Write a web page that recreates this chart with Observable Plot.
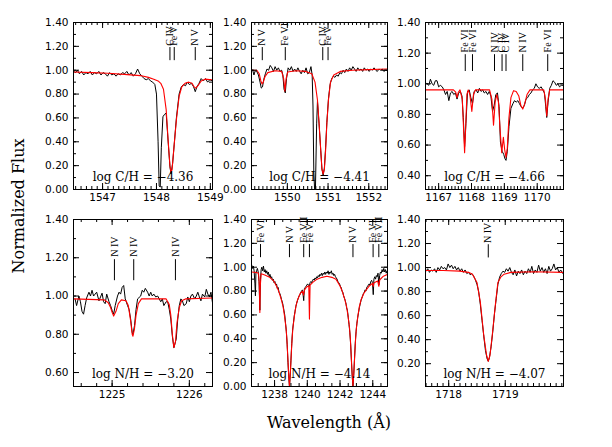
<!DOCTYPE html>
<html><head><meta charset="utf-8">
<script src="https://cdn.jsdelivr.net/npm/d3@7"></script>
<script src="https://cdn.jsdelivr.net/npm/@observablehq/plot@0.6"></script>
<style>
body{margin:0;background:#fff;}
#chart{position:relative;width:612px;height:447px;overflow:hidden;background:#fff;}
.axlab{position:absolute;font-family:"DejaVu Serif";font-size:16px;color:#000;white-space:nowrap;}
</style>
</head><body><div id="chart"></div>
<script>
// ---------- DATA ----------
// Panel 1: C IV 1548
const p1Obs = [[1546.46,0.99],[1546.50,0.98],[1546.53,1.00],[1546.57,0.97],[1546.61,0.99],[1546.65,0.96],[1546.69,0.98],[1546.73,0.97],[1546.77,0.99],[1546.81,0.96],[1546.85,0.98],[1546.89,0.97],[1546.93,0.99],[1546.97,0.96],[1547.01,0.98],[1547.05,0.97],[1547.09,0.95],[1547.13,0.98],[1547.17,0.96],[1547.21,0.97],[1547.25,0.95],[1547.29,0.97],[1547.33,0.96],[1547.37,0.98],[1547.41,0.97],[1547.45,0.99],[1547.49,0.96],[1547.53,0.98],[1547.57,0.95],[1547.61,0.97],[1547.65,1.01],[1547.69,0.97],[1547.73,0.95],[1547.77,0.93],[1547.81,0.92],[1547.85,0.93],[1547.89,0.91],[1547.93,0.90],[1547.97,0.88],[1548.00,0.80],[1548.03,0.40],[1548.05,0.03],[1548.07,0.02],[1548.09,0.35],[1548.12,0.61],[1548.15,0.63],[1548.18,0.64],[1548.22,0.38],[1548.25,0.19],[1548.27,0.13],[1548.30,0.22],[1548.33,0.38],[1548.37,0.60],[1548.42,0.80],[1548.46,0.86],[1548.50,0.88],[1548.54,0.87],[1548.57,0.90],[1548.61,0.88],[1548.65,0.89],[1548.69,0.86],[1548.72,0.82],[1548.75,0.86],[1548.79,0.89],[1548.83,0.93],[1548.87,0.91],[1548.91,0.93],[1548.95,0.90],[1548.99,0.92],[1549.04,0.91]];
const p1Mod = [[1546.46,0.985],[1546.8,0.98],[1547.1,0.975],[1547.4,0.965],[1547.7,0.955],[1547.85,0.94],[1547.95,0.925],[1548.03,0.91],[1548.08,0.89],[1548.13,0.84],[1548.18,0.67],[1548.22,0.39],[1548.25,0.20],[1548.27,0.14],[1548.29,0.17],[1548.32,0.33],[1548.37,0.585],[1548.42,0.78],[1548.47,0.86],[1548.53,0.89],[1548.60,0.90],[1548.66,0.89],[1548.70,0.86],[1548.73,0.85],[1548.77,0.87],[1548.83,0.91],[1548.90,0.925],[1549.05,0.92]];
const p1IdWave = [1548.25, 1548.33, 1548.72];
const p1IdText = ["C IV", "Fe V", "N V"];
const p1Label = "log C/H = \u22124.36";
const p1XTicks = [1547, 1548, 1549];
const p1YTicks = [0, 0.2, 0.4, 0.6, 0.8, 1.0, 1.2, 1.4];

// Panel 2: C IV 1551
const p2Obs = [[1549.12,1.01],[1549.15,1.00],[1549.18,0.96],[1549.21,0.995],[1549.25,0.99],[1549.29,0.96],[1549.33,0.90],[1549.36,0.85],[1549.39,0.86],[1549.42,0.92],[1549.46,0.97],[1549.50,1.01],[1549.54,1.00],[1549.58,1.04],[1549.62,1.02],[1549.66,0.99],[1549.70,1.03],[1549.74,1.00],[1549.78,1.02],[1549.82,0.99],[1549.86,1.00],[1549.89,0.96],[1549.92,0.84],[1549.95,0.81],[1549.98,0.93],[1550.02,1.02],[1550.06,1.00],[1550.10,1.03],[1550.14,0.99],[1550.18,1.01],[1550.22,0.99],[1550.26,1.02],[1550.30,0.99],[1550.34,0.97],[1550.38,1.00],[1550.42,0.98],[1550.46,1.02],[1550.50,0.97],[1550.54,0.98],[1550.58,1.03],[1550.61,0.96],[1550.63,0.70],[1550.65,0.15],[1550.67,0.0],[1550.69,0.0],[1550.72,0.55],[1550.74,0.74],[1550.78,0.55],[1550.82,0.33],[1550.85,0.17],[1550.88,0.12],[1550.91,0.18],[1550.94,0.35],[1550.97,0.56],[1551.01,0.76],[1551.05,0.88],[1551.09,0.93],[1551.13,0.95],[1551.17,0.94],[1551.21,0.96],[1551.25,0.95],[1551.29,0.98],[1551.33,0.97],[1551.37,1.00],[1551.41,0.98],[1551.45,1.01],[1551.49,0.99],[1551.53,1.02],[1551.57,1.00],[1551.61,1.03],[1551.65,1.01],[1551.69,0.99],[1551.73,1.02],[1551.77,1.00],[1551.81,1.01],[1551.85,0.99],[1551.89,1.02],[1551.93,1.00],[1551.97,1.01],[1552.01,0.99],[1552.05,1.01],[1552.09,1.00],[1552.13,1.02],[1552.17,1.00],[1552.21,0.99],[1552.25,1.01],[1552.29,1.00],[1552.33,1.01],[1552.37,0.99],[1552.41,1.00],[1552.46,1.00]];
const p2Mod = [[1549.10,1.00],[1549.25,1.00],[1549.31,0.97],[1549.35,0.91],[1549.38,0.885],[1549.41,0.90],[1549.45,0.945],[1549.52,0.98],[1549.70,0.995],[1549.86,0.99],[1549.91,0.93],[1549.94,0.825],[1549.97,0.93],[1550.01,0.985],[1550.20,0.995],[1550.45,0.99],[1550.60,0.97],[1550.68,0.90],[1550.74,0.75],[1550.78,0.55],[1550.82,0.33],[1550.85,0.17],[1550.88,0.13],[1550.91,0.17],[1550.94,0.33],[1550.97,0.55],[1551.01,0.75],[1551.06,0.90],[1551.14,0.96],[1551.30,0.99],[1551.60,1.00],[1552.00,1.005],[1552.47,1.01]];
const p2IdWave = [1549.385, 1549.95, 1550.87, 1551.0];
const p2IdText = ["N V", "Fe VI", "C IV", "Fe V"];
const p2Label = "log C/H = \u22124.41";
const p2XTicks = [1550, 1551, 1552];
const p2YTicks = [0, 0.2, 0.4, 0.6, 0.8, 1.0, 1.2, 1.4];

// Panel 3: C IV 1169
const p3Obs = [[1166.65,1.00],[1166.70,0.99],[1166.75,1.03],[1166.80,1.00],[1166.85,0.99],[1166.90,1.02],[1166.95,1.02],[1167.00,0.98],[1167.05,0.99],[1167.11,0.98],[1167.16,0.96],[1167.21,0.93],[1167.26,0.95],[1167.31,0.89],[1167.36,0.94],[1167.41,0.95],[1167.46,0.93],[1167.51,0.94],[1167.56,0.90],[1167.61,0.94],[1167.66,0.95],[1167.71,0.92],[1167.75,0.78],[1167.79,0.59],[1167.83,0.74],[1167.88,0.95],[1167.93,0.96],[1167.98,0.91],[1168.03,0.87],[1168.08,0.95],[1168.14,0.96],[1168.19,0.94],[1168.24,0.97],[1168.29,0.95],[1168.34,0.96],[1168.39,0.94],[1168.44,0.95],[1168.49,0.93],[1168.54,0.95],[1168.59,0.92],[1168.64,0.82],[1168.69,0.86],[1168.74,0.93],[1168.79,0.94],[1168.84,0.85],[1168.88,0.62],[1168.93,0.56],[1168.98,0.54],[1169.02,0.51],[1169.05,0.50],[1169.09,0.56],[1169.14,0.72],[1169.20,0.84],[1169.26,0.87],[1169.31,0.89],[1169.36,0.88],[1169.41,0.89],[1169.46,0.87],[1169.51,0.85],[1169.56,0.84],[1169.61,0.86],[1169.66,0.90],[1169.71,0.91],[1169.76,0.93],[1169.81,0.94],[1169.86,0.96],[1169.91,0.97],[1169.96,1.00],[1170.01,0.98],[1170.06,0.97],[1170.12,0.98],[1170.17,0.96],[1170.22,0.94],[1170.26,0.85],[1170.29,0.78],[1170.33,0.88],[1170.38,0.97],[1170.43,0.99],[1170.48,1.02],[1170.53,1.01],[1170.58,0.99],[1170.63,1.00],[1170.68,0.98],[1170.73,0.99],[1170.78,0.99]];
const p3Mod = [[1166.60,0.96],[1167.45,0.96],[1167.52,0.945],[1167.56,0.91],[1167.60,0.945],[1167.65,0.96],[1167.72,0.90],[1167.76,0.70],[1167.79,0.55],[1167.82,0.70],[1167.86,0.93],[1167.90,0.96],[1167.95,0.93],[1168.01,0.82],[1168.06,0.93],[1168.12,0.96],[1168.55,0.96],[1168.62,0.90],[1168.67,0.73],[1168.72,0.88],[1168.77,0.93],[1168.82,0.88],[1168.87,0.70],[1168.92,0.55],[1168.97,0.65],[1169.01,0.57],[1169.05,0.52],[1169.09,0.58],[1169.14,0.78],[1169.20,0.91],[1169.28,0.955],[1169.36,0.95],[1169.44,0.92],[1169.50,0.86],[1169.56,0.835],[1169.62,0.87],[1169.69,0.93],[1169.78,0.96],[1170.20,0.96],[1170.25,0.90],[1170.29,0.79],[1170.33,0.90],[1170.38,0.96],[1170.80,0.96]];
const p3IdWave = [1167.81, 1168.03, 1168.70, 1168.93, 1169.05, 1169.56, 1170.32];
const p3IdText = ["Fe VI", "Fe VI", "N IV", "C IV", "C IV", "N IV", "Fe VI"];
const p3Label = "log C/H = \u22124.66";
const p3XTicks = [1167, 1168, 1169, 1170];
const p3YTicks = [0.4, 0.6, 0.8, 1.0, 1.2, 1.4];

// Panel 4: N IV 1225
const p4Obs = [[1224.52,0.985],[1224.54,0.95],[1224.57,1.00],[1224.59,0.97],[1224.61,0.92],[1224.63,0.905],[1224.65,0.95],[1224.67,0.99],[1224.70,1.02],[1224.72,1.00],[1224.74,1.03],[1224.76,1.00],[1224.78,1.01],[1224.80,1.02],[1224.83,0.975],[1224.85,0.995],[1224.87,1.015],[1224.89,0.97],[1224.91,0.96],[1224.93,1.01],[1224.96,0.97],[1224.98,0.95],[1225.00,0.925],[1225.02,0.905],[1225.04,0.95],[1225.07,1.00],[1225.09,1.02],[1225.11,1.01],[1225.13,1.045],[1225.15,1.055],[1225.17,0.985],[1225.20,0.95],[1225.22,0.93],[1225.24,0.88],[1225.26,0.81],[1225.27,0.80],[1225.29,0.845],[1225.31,0.93],[1225.33,0.985],[1225.37,1.00],[1225.39,1.03],[1225.41,1.02],[1225.43,1.04],[1225.46,1.02],[1225.48,1.00],[1225.50,1.02],[1225.52,1.00],[1225.54,1.01],[1225.565,0.995],[1225.59,1.00],[1225.61,0.985],[1225.63,0.97],[1225.65,0.985],[1225.67,0.95],[1225.70,0.97],[1225.72,0.97],[1225.74,0.93],[1225.76,0.88],[1225.78,0.79],[1225.80,0.73],[1225.83,0.775],[1225.85,0.88],[1225.87,0.95],[1225.89,0.985],[1225.91,0.975],[1225.93,0.95],[1225.96,0.96],[1225.98,0.995],[1226.00,0.97],[1226.02,1.00],[1226.04,1.01],[1226.07,0.985],[1226.09,1.00],[1226.11,1.02],[1226.13,0.995],[1226.15,0.975],[1226.17,1.01],[1226.20,0.995],[1226.22,1.035],[1226.24,1.01],[1226.26,0.995],[1226.28,1.02],[1226.30,0.965]];
const p4Mod = [[1224.50,0.985],[1224.90,0.98],[1224.95,0.965],[1224.98,0.94],[1225.00,0.915],[1225.02,0.895],[1225.05,0.92],[1225.08,0.96],[1225.12,0.98],[1225.18,0.975],[1225.21,0.95],[1225.24,0.87],[1225.26,0.80],[1225.27,0.79],[1225.29,0.83],[1225.31,0.90],[1225.34,0.96],[1225.38,0.985],[1225.70,0.985],[1225.74,0.955],[1225.76,0.90],[1225.78,0.80],[1225.80,0.73],[1225.82,0.76],[1225.84,0.86],[1225.87,0.94],[1225.90,0.975],[1225.95,0.985],[1226.30,0.99]];
const p4IdWave = [1225.03, 1225.28, 1225.82];
const p4IdText = ["N IV", "N IV", "N IV"];
const p4Label = "log N/H = \u22123.20";
const p4XTicks = [1225, 1226];
const p4YTicks = [0.6, 0.8, 1.0, 1.2, 1.4];

// Panel 5: N V 1238/1242
const p5Obs = [[1236.60,1.02],[1236.65,0.99],[1236.70,1.01],[1236.75,0.97],[1236.80,0.86],[1236.83,0.76],[1236.86,0.95],[1236.90,0.97],[1236.95,0.99],[1237.00,0.96],[1237.05,0.88],[1237.10,0.64],[1237.14,0.90],[1237.18,0.98],[1237.22,1.00],[1237.27,0.97],[1237.32,1.01],[1237.37,0.96],[1237.42,0.98],[1237.47,0.95],[1237.52,0.97],[1237.57,0.94],[1237.62,0.96],[1237.67,0.92],[1237.72,0.94],[1237.77,0.91],[1237.82,0.92],[1237.87,0.89],[1237.92,0.90],[1237.97,0.87],[1238.02,0.88],[1238.07,0.85],[1238.12,0.86],[1238.17,0.82],[1238.22,0.83],[1238.27,0.79],[1238.32,0.78],[1238.37,0.76],[1238.42,0.73],[1238.47,0.71],[1238.52,0.68],[1238.57,0.64],[1238.62,0.60],[1238.67,0.53],[1238.72,0.46],[1238.77,0.35],[1238.82,0.20],[1238.87,0.07],[1238.91,0.00],[1238.95,0.08],[1239.00,0.22],[1239.05,0.36],[1239.10,0.47],[1239.15,0.53],[1239.20,0.59],[1239.25,0.63],[1239.30,0.67],[1239.35,0.70],[1239.40,0.72],[1239.45,0.74],[1239.50,0.76],[1239.55,0.77],[1239.60,0.79],[1239.65,0.80],[1239.70,0.81],[1239.75,0.76],[1239.78,0.72],[1239.82,0.82],[1239.87,0.83],[1239.92,0.84],[1239.97,0.85],[1240.02,0.86],[1240.07,0.85],[1240.12,0.84],[1240.17,0.87],[1240.22,0.88],[1240.27,0.87],[1240.32,0.89],[1240.37,0.90],[1240.42,0.89],[1240.47,0.91],[1240.52,0.90],[1240.57,0.92],[1240.62,0.91],[1240.67,0.93],[1240.72,0.92],[1240.77,0.94],[1240.82,0.93],[1240.87,0.95],[1240.92,0.93],[1240.97,0.95],[1241.02,0.94],[1241.07,0.96],[1241.12,0.94],[1241.17,0.96],[1241.22,0.95],[1241.27,0.97],[1241.32,0.94],[1241.37,0.96],[1241.42,0.95],[1241.47,0.97],[1241.52,0.94],[1241.57,0.95],[1241.62,0.93],[1241.67,0.94],[1241.72,0.92],[1241.77,0.91],[1241.82,0.90],[1241.87,0.88],[1241.92,0.87],[1241.97,0.86],[1242.02,0.84],[1242.07,0.83],[1242.12,0.80],[1242.17,0.79],[1242.22,0.76],[1242.27,0.74],[1242.32,0.72],[1242.37,0.69],[1242.40,0.66],[1242.45,0.64],[1242.50,0.58],[1242.55,0.52],[1242.60,0.45],[1242.65,0.35],[1242.70,0.20],[1242.75,0.07],[1242.79,0.00],[1242.83,0.08],[1242.88,0.22],[1242.93,0.36],[1242.98,0.46],[1243.03,0.53],[1243.08,0.58],[1243.13,0.62],[1243.18,0.66],[1243.23,0.69],[1243.28,0.72],[1243.33,0.74],[1243.38,0.76],[1243.43,0.78],[1243.48,0.79],[1243.53,0.81],[1243.58,0.80],[1243.63,0.83],[1243.68,0.84],[1243.73,0.85],[1243.78,0.86],[1243.83,0.85],[1243.88,0.88],[1243.93,0.89],[1243.98,0.87],[1244.03,0.77],[1244.07,0.90],[1244.12,0.92],[1244.17,0.90],[1244.22,0.93],[1244.27,0.92],[1244.32,0.95],[1244.37,0.85],[1244.42,0.93],[1244.47,0.96],[1244.52,0.95],[1244.57,0.98],[1244.62,0.96],[1244.67,0.99],[1244.72,0.96],[1244.77,0.98],[1244.82,0.95],[1244.87,0.97],[1244.90,0.96]];
const p5Mod = [[1236.59,0.96],[1236.90,0.955],[1237.02,0.95],[1237.07,0.85],[1237.10,0.62],[1237.13,0.85],[1237.18,0.945],[1237.40,0.935],[1237.70,0.915],[1237.95,0.885],[1238.11,0.845],[1238.25,0.80],[1238.41,0.73],[1238.52,0.67],[1238.61,0.59],[1238.70,0.49],[1238.75,0.40],[1238.80,0.27],[1238.85,0.13],[1238.91,0.00],[1238.97,0.13],[1239.02,0.27],[1239.07,0.40],[1239.12,0.49],[1239.21,0.59],[1239.30,0.67],[1239.41,0.73],[1239.57,0.78],[1239.71,0.80],[1239.77,0.765],[1239.83,0.81],[1239.96,0.835],[1240.09,0.845],[1240.13,0.565],[1240.17,0.85],[1240.35,0.875],[1240.60,0.90],[1240.90,0.915],[1241.20,0.925],[1241.50,0.915],[1241.75,0.90],[1241.99,0.845],[1242.13,0.80],[1242.29,0.73],[1242.40,0.67],[1242.49,0.59],[1242.58,0.49],[1242.63,0.40],[1242.68,0.27],[1242.73,0.13],[1242.79,0.00],[1242.85,0.13],[1242.90,0.27],[1242.95,0.40],[1243.00,0.49],[1243.09,0.59],[1243.18,0.67],[1243.29,0.73],[1243.45,0.78],[1243.60,0.81],[1243.80,0.845],[1243.98,0.865],[1244.03,0.84],[1244.08,0.87],[1244.30,0.885],[1244.37,0.84],[1244.43,0.895],[1244.65,0.925],[1244.90,0.94]];
const p5IdWave = [1237.14, 1238.91, 1239.78, 1240.13, 1242.79, 1244.02, 1244.37];
const p5IdText = ["Fe VI", "N V", "Fe VII", "Fe VI", "N V", "Fe VI", "Fe VII"];
const p5Label = "log N/H = \u22124.14";
const p5XTicks = [1238, 1240, 1242, 1244];
const p5YTicks = [0, 0.2, 0.4, 0.6, 0.8, 1.0, 1.2, 1.4];

// Panel 6: N IV 1718
const p6Obs = [[1717.60,0.97],[1717.63,0.99],[1717.66,0.96],[1717.69,0.98],[1717.72,0.97],[1717.75,0.99],[1717.78,0.96],[1717.81,1.00],[1717.84,0.98],[1717.87,1.01],[1717.90,0.99],[1717.93,1.00],[1717.96,0.98],[1717.99,1.03],[1718.02,1.00],[1718.05,1.02],[1718.08,0.99],[1718.11,1.01],[1718.14,0.98],[1718.17,1.00],[1718.20,0.97],[1718.23,0.99],[1718.26,0.96],[1718.29,0.98],[1718.32,0.95],[1718.35,0.96],[1718.38,0.94],[1718.41,0.95],[1718.44,0.93],[1718.47,0.90],[1718.50,0.86],[1718.53,0.80],[1718.56,0.69],[1718.59,0.56],[1718.62,0.43],[1718.65,0.31],[1718.68,0.24],[1718.70,0.22],[1718.72,0.25],[1718.75,0.34],[1718.78,0.47],[1718.81,0.62],[1718.84,0.74],[1718.87,0.86],[1718.90,0.92],[1718.93,0.95],[1718.96,0.97],[1718.99,0.96],[1719.02,0.99],[1719.05,0.97],[1719.08,1.00],[1719.11,0.96],[1719.14,0.94],[1719.17,0.98],[1719.20,0.93],[1719.23,0.97],[1719.26,0.95],[1719.29,0.98],[1719.32,0.94],[1719.35,0.97],[1719.38,0.95],[1719.41,0.99],[1719.44,0.96],[1719.47,1.01],[1719.50,0.95],[1719.53,0.98],[1719.56,0.96],[1719.59,1.02],[1719.62,0.97],[1719.65,1.00],[1719.68,0.96],[1719.71,0.99],[1719.74,0.95],[1719.77,1.01],[1719.80,0.97],[1719.83,0.99],[1719.86,1.03],[1719.89,0.98],[1719.92,1.00],[1719.95,0.96],[1719.98,0.98],[1720.02,0.95]];
const p6Mod = [[1717.59,0.975],[1717.90,0.975],[1718.20,0.97],[1718.35,0.96],[1718.42,0.945],[1718.50,0.876],[1718.56,0.71],[1718.62,0.435],[1718.67,0.27],[1718.70,0.22],[1718.73,0.27],[1718.77,0.435],[1718.83,0.71],[1718.87,0.876],[1718.92,0.92],[1718.98,0.945],[1719.10,0.96],[1719.50,0.965],[1720.03,0.96]];
const p6IdWave = [1718.70];
const p6IdText = ["N IV"];
const p6Label = "log N/H = \u22124.07";
const p6XTicks = [1718, 1719];
const p6YTicks = [0.2, 0.4, 0.6, 0.8, 1.0, 1.2, 1.4];

const yAxisTitle = "Normalized Flux";
const xAxisTitle = "Wavelength (\u00C5)";

// ---------- LAYOUT ----------
const ID_Y1 = 1.08, ID_Y2 = 1.19, ID_TEXT_Y = 1.205;
const panels = [
  {left:73, top:22, w:139, h:167, xdom:[1546.46,1549.04], ydom:[0,1.4], xStep:0.1, obs:p1Obs, mod:p1Mod, idW:p1IdWave, idT:p1IdText, label:p1Label, xT:p1XTicks, yT:p1YTicks},
  {left:251, top:22, w:136, h:167, xdom:[1549.12,1552.46], ydom:[0,1.4], xStep:0.1, obs:p2Obs, mod:p2Mod, idW:p2IdWave, idT:p2IdText, label:p2Label, xT:p2XTicks, yT:p2YTicks},
  {left:425, top:22, w:138, h:167, xdom:[1166.6,1170.8], ydom:[0.31,1.4], xStep:0.1, obs:p3Obs, mod:p3Mod, idW:p3IdWave, idT:p3IdText, label:p3Label, xT:p3XTicks, yT:p3YTicks},
  {left:73, top:219, w:139, h:167, xdom:[1224.5,1226.3], ydom:[0.527,1.4], xStep:0.2, obs:p4Obs, mod:p4Mod, idW:p4IdWave, idT:p4IdText, label:p4Label, xT:p4XTicks, yT:p4YTicks},
  {left:251, top:219, w:136, h:167, xdom:[1236.59,1244.9], ydom:[0,1.4], xStep:0.5, obs:p5Obs, mod:p5Mod, idW:p5IdWave, idT:p5IdText, label:p5Label, xT:p5XTicks, yT:p5YTicks},
  {left:425, top:219, w:138, h:167, xdom:[1717.59,1720.03], ydom:[0.01,1.4], xStep:0.1, obs:p6Obs, mod:p6Mod, idW:p6IdWave, idT:p6IdText, label:p6Label, xT:p6XTicks, yT:p6YTicks}
];

const chart = document.getElementById("chart");
const mL = 44, mR = 8, mT = 6, mB = 22;
const MAJ = 6, MIN = 3;

for (const p of panels) {
  const obs = p.obs.map(([w, f]) => ({w, f}));
  const mod = p.mod.map(([w, f]) => ({w, f}));
  const ids = p.idW.map((w, i) => ({w, t: p.idT[i]}));
  const eps = 1e-6;
  const xMinor = d3.range(Math.ceil(p.xdom[0] / p.xStep - eps), Math.floor(p.xdom[1] / p.xStep + eps) + 1).map(k => +(k * p.xStep).toFixed(4));
  const yMinor = d3.range(Math.ceil(p.ydom[0] * 10 - eps), Math.floor(p.ydom[1] * 10 + eps) + 1).map(k => +(k / 10).toFixed(2));
  const svg = Plot.plot({
    width: p.w + mL + mR,
    height: p.h + mT + mB,
    marginLeft: mL, marginRight: mR, marginTop: mT, marginBottom: mB,
    x: {domain: p.xdom, label: null},
    y: {domain: p.ydom, label: null},
    style: {background: "none", overflow: "visible", fontFamily: "DejaVu Sans", fontSize: "10.5px", color: "black"},
    marks: [
      Plot.line(obs, {x: "w", y: "f", stroke: "black", strokeWidth: 1, clip: true}),
      Plot.line(mod, {x: "w", y: "f", stroke: "#ff0000", strokeWidth: 1.1, clip: true}),
      Plot.ruleX(ids, {x: "w", y1: ID_Y1, y2: ID_Y2, stroke: "black", strokeWidth: 1}),
      Plot.text(ids, {x: "w", y: ID_TEXT_Y, text: "t", rotate: -90, textAnchor: "start", fontFamily: "Liberation Serif", fontSize: 10, fill: "black"}),
      // inward ticks, all four sides
      Plot.ruleX(p.xT, {insetTop: p.h - MAJ, stroke: "black"}),
      Plot.ruleX(p.xT, {insetBottom: p.h - MAJ, stroke: "black"}),
      Plot.ruleX(xMinor, {insetTop: p.h - MIN, stroke: "black"}),
      Plot.ruleX(xMinor, {insetBottom: p.h - MIN, stroke: "black"}),
      Plot.ruleY(p.yT, {insetRight: p.w - MAJ, stroke: "black"}),
      Plot.ruleY(p.yT, {insetLeft: p.w - MAJ, stroke: "black"}),
      Plot.ruleY(yMinor, {insetRight: p.w - MIN, stroke: "black"}),
      Plot.ruleY(yMinor, {insetLeft: p.w - MIN, stroke: "black"}),
      Plot.axisX(p.xT, {tickSize: 0, tickPadding: 4, tickFormat: d => String(d), label: null, fontSize: 10.5}),
      Plot.axisY(p.yT, {tickSize: 0, tickPadding: 5, tickFormat: d => d.toFixed(2), label: null, fontSize: 10.5}),
      Plot.text([p.label], {frameAnchor: "bottom", dy: -9, fontFamily: "DejaVu Serif", fontSize: 12, fill: "black"}),
      Plot.frame({stroke: "black", strokeWidth: 1})
    ]
  });
  svg.style.position = "absolute";
  svg.style.left = (p.left - mL) + "px";
  svg.style.top = (p.top - mT) + "px";
  chart.appendChild(svg);
}

const xt = document.createElement("div");
xt.className = "axlab";
xt.textContent = xAxisTitle;
xt.style.left = "329px"; xt.style.top = "422px";
xt.style.transform = "translate(-50%, -50%)";
chart.appendChild(xt);

const yt = document.createElement("div");
yt.className = "axlab";
yt.textContent = yAxisTitle;
yt.style.left = "18px"; yt.style.top = "206px";
yt.style.transform = "translate(-50%, -50%) rotate(-90deg)";
chart.appendChild(yt);
</script>
</body></html>
